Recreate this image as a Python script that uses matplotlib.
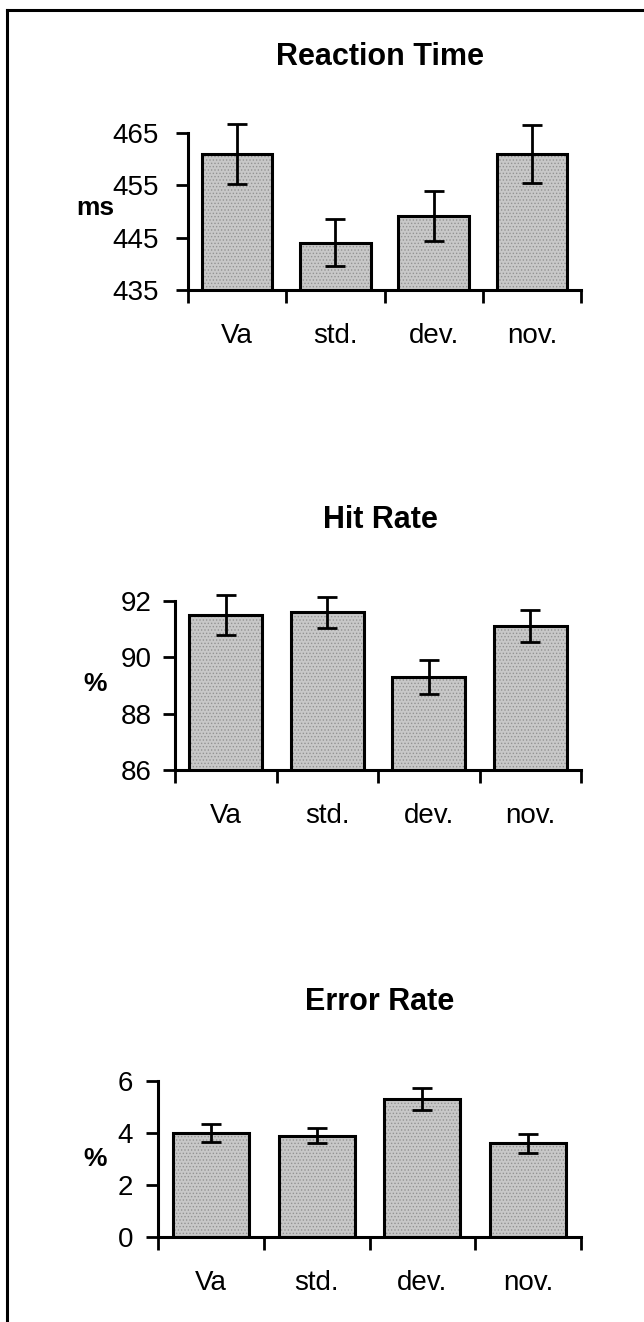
import matplotlib
matplotlib.use('Agg')
import matplotlib.pyplot as plt
from matplotlib.lines import Line2D
import numpy as np

plt.rcParams['font.family'] = ['Liberation Sans', 'DejaVu Sans']
plt.rcParams['hatch.linewidth'] = 0.6

conditions = ['Va', 'std.', 'dev.', 'nov.']

rt_mean = [461.0, 444.0, 449.2, 461.0]
rt_err = [5.7, 4.5, 4.8, 5.6]
rt_ticks = [435, 445, 455, 465]

hit_mean = [91.5, 91.6, 89.3, 91.1]
hit_err = [0.7, 0.55, 0.6, 0.57]
hit_ticks = [86, 88, 90, 92]

err_mean = [4.0, 3.9, 5.3, 3.6]
err_err = [0.33, 0.28, 0.42, 0.35]
err_ticks = [0, 2, 4, 6]

W, H = 644, 1322
fig = plt.figure(figsize=(W / 100, H / 100), dpi=100)


def px_rect(left, right, top, bottom):
    return [left / W, 1 - bottom / H, (right - left) / W, (bottom - top) / H]


def panel(rect, means, errs, yticks, title, title_base, ylabel, ylab_y, ypad):
    ax = fig.add_axes(rect)
    x = np.arange(len(conditions))
    # stippled grey fill first, then the black outlines on top
    ax.bar(x, means, width=0.72, color='#c8c8c8', edgecolor='#939393',
           hatch='.....', linewidth=0, zorder=2)
    ax.bar(x, means, width=0.72, color='none', edgecolor='black',
           linewidth=2.2, zorder=3)
    ax.errorbar(x, means, yerr=errs, fmt='none', ecolor='black',
                elinewidth=2, capsize=7, capthick=2, clip_on=False, zorder=4)
    ax.set_xlim(-0.5, len(conditions) - 0.5)
    ax.set_ylim(yticks[0], yticks[-1])
    ax.set_yticks(yticks)
    # boundary ticks between categories, labels sit on the centres
    ax.set_xticks(np.arange(len(conditions) + 1) - 0.5)
    ax.set_xticklabels([])
    ax.set_xticks(x, minor=True)
    ax.set_xticklabels(conditions, minor=True)
    ax.tick_params(axis='x', which='major', length=9, width=2, direction='out')
    ax.tick_params(axis='x', which='minor', length=0, pad=24, labelsize=20)
    ax.tick_params(axis='y', length=9, width=2, direction='out', pad=ypad, labelsize=20)
    for side in ('top', 'right'):
        ax.spines[side].set_visible(False)
    for side in ('left', 'bottom'):
        ax.spines[side].set_linewidth(2.2)
        ax.spines[side].set_zorder(5)
    fig.text(380 / W, 1 - title_base / H, title, ha='center', va='baseline',
             fontsize=22, fontweight='bold')
    fig.text(95 / W, 1 - ylab_y / H, ylabel, ha='center', va='center',
             fontsize=19, fontweight='bold')
    return ax


panel(px_rect(188, 581, 133, 290), rt_mean, rt_err, rt_ticks,
      'Reaction Time', 65, 'ms', 208, 12)
panel(px_rect(175, 581, 601, 770), hit_mean, hit_err, hit_ticks,
      'Hit Rate', 528, '%', 684, 8)
panel(px_rect(158, 581, 1081, 1237), err_mean, err_err, err_ticks,
      'Error Rate', 1010, '%', 1159, 9)

# page frame: top and left edges
fig.add_artist(Line2D([7 / W, 1], [1 - 10 / H, 1 - 10 / H], color='black',
                      linewidth=2.2, transform=fig.transFigure))
fig.add_artist(Line2D([7 / W, 7 / W], [0, 1 - 10 / H], color='black',
                      linewidth=2.2, transform=fig.transFigure))

fig.savefig('out.png', dpi=100, facecolor='white')
